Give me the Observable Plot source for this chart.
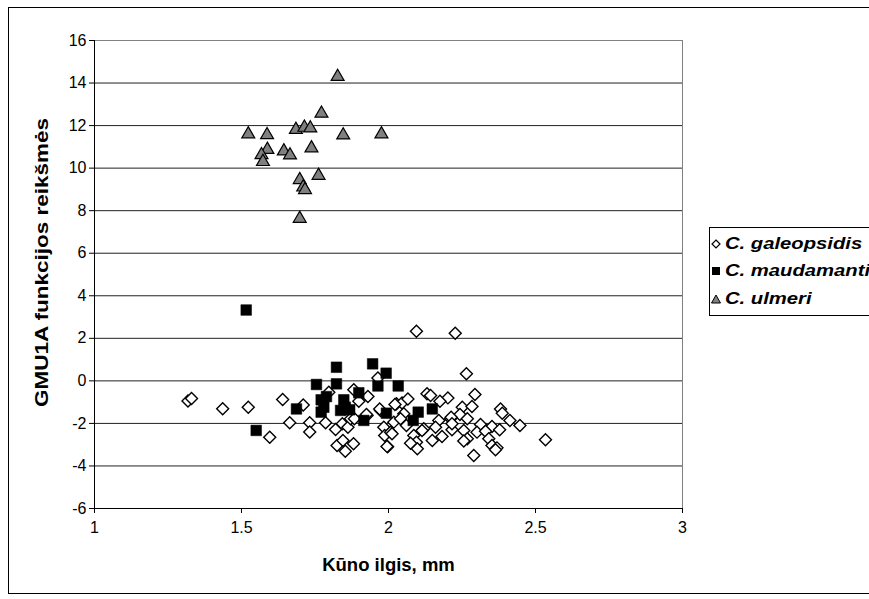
<!DOCTYPE html>
<html>
<head>
<meta charset="utf-8">
<script src="https://cdn.jsdelivr.net/npm/d3@7"></script>
<script src="https://cdn.jsdelivr.net/npm/@observablehq/plot@0.6"></script>
<style>
  body { margin: 0; background: #fff; }
  #wrap { position: relative; width: 869px; height: 599px; overflow: hidden; background: #fff; font-family: "Liberation Sans", Arial, sans-serif; }
  #frame { position: absolute; left: 8px; top: 7px; width: 900px; height: 587px; border: 1px solid #000; box-sizing: border-box; }
  #chart { position: absolute; left: 0; top: 0; }
  #legend { position: absolute; left: 709px; top: 227px; width: 200px; height: 89px; border: 1px solid #000; box-sizing: border-box; background: #fff; }
  .row { position: absolute; left: 0; height: 20px; display: flex; align-items: center; white-space: nowrap; font-weight: bold; font-style: italic; font-size: 17px; color: #000; }
  .row svg { margin-left: 1px; margin-right: 4px; flex: none; }
  .row span { display: inline-block; transform: scaleX(1.19); transform-origin: left center; }
</style>
</head>
<body>
<div id="wrap">
  <div id="frame"></div>
  <div id="chart"></div>
  <div id="legend"></div>
</div>
<script>
const xTicks = [1, 1.5, 2, 2.5, 3];
const yTicks = [-6, -4, -2, 0, 2, 4, 6, 8, 10, 12, 14, 16];
const xTitle = "Kūno ilgis, mm";
const yTitle = "GMU1A funkcijos reikšmės";
const seriesNames = ["C. galeopsidis", "C. maudamanti", "C. ulmeri"];

const galeopsidis = [
  [1.318,-0.95],[1.330,-0.83],[1.436,-1.31],[1.523,-1.24],[1.596,-2.65],[1.640,-0.88],[1.664,-1.97],
  [1.710,-1.13],[1.732,-1.97],[1.732,-2.40],[1.786,-1.97],[1.797,-0.54],[1.820,-2.29],[1.843,-2.02],
  [1.862,-2.18],[1.825,-3.04],[1.845,-2.80],[1.881,-2.96],[1.853,-3.31],[1.882,-0.42],[1.930,-0.74],
  [1.899,-0.96],[1.871,-1.78],[1.927,-1.63],[1.964,0.13],[1.973,-1.39],[1.984,-2.18],[1.987,-2.57],
  [1.997,-3.10],[2.007,-2.41],[2.018,-1.94],[2.027,-1.08],[2.046,-1.04],[2.066,-0.85],[2.052,-1.55],
  [2.041,-1.78],[2.061,-2.10],[2.012,-2.49],[2.086,-2.57],[2.095,-2.89],[2.098,-3.19],[2.131,-0.61],
  [2.120,-2.25],[2.095,2.33],[2.227,2.24],[2.265,0.33],[2.143,-0.69],[2.202,-0.80],[2.294,-0.64],
  [2.175,-0.96],[2.251,-1.24],[2.284,-1.21],[2.381,-1.32],[2.387,-1.52],[2.243,-1.58],[2.268,-1.78],
  [2.211,-1.78],[2.413,-1.86],[2.447,-2.10],[2.313,-2.05],[2.352,-2.15],[2.378,-2.30],[2.171,-1.86],
  [2.182,-2.62],[2.216,-2.30],[2.256,-2.33],[2.301,-2.41],[2.330,-2.37],[2.268,-2.72],[2.256,-2.83],
  [2.341,-2.72],[2.352,-3.04],[2.369,-3.15],[2.364,-3.24],[2.290,-3.51],[2.534,-2.77],[2.149,-2.80],
  [2.160,-2.18],[2.075,-2.93],[2.114,-2.33],[2.022,-1.11],[1.925,-1.58],[1.884,-1.78],[1.970,-1.32],
  [1.995,-3.08],[2.213,-1.71],[2.216,-2.02]
];
const maudamanti = [
  [1.516,3.33],[1.550,-2.33],[1.687,-1.32],[1.755,-0.17],[1.823,0.64],[1.823,-0.14],[1.946,0.80],
  [1.992,0.36],[1.964,-0.24],[2.033,-0.24],[1.771,-0.89],[1.789,-0.74],[1.771,-1.47],[1.780,-1.24],
  [1.848,-0.89],[1.853,-1.24],[1.837,-1.39],[1.868,-1.36],[1.899,-0.56],[1.916,-1.86],[1.993,-1.52],
  [2.101,-1.47],[2.084,-1.86],[2.149,-1.32]
];
const ulmeri = [
  [1.827,14.30],[1.772,12.57],[1.523,11.60],[1.587,11.56],[1.685,11.81],[1.714,11.91],[1.734,11.88],
  [1.846,11.55],[1.976,11.60],[1.588,10.87],[1.644,10.80],[1.665,10.61],[1.738,10.94],[1.568,10.62],
  [1.573,10.30],[1.762,9.65],[1.698,9.45],[1.710,9.10],[1.716,8.98],[1.698,7.63]
];

const font = "'Liberation Sans', Arial, sans-serif";
const fmt = d => String(d);

const chart = Plot.plot({
  width: 869,
  height: 599,
  marginLeft: 94,
  marginRight: 187,
  marginTop: 40,
  marginBottom: 91,
  style: { fontFamily: font, fontSize: "16px", color: "#000", background: "transparent", overflow: "visible" },
  x: { domain: [1, 3] },
  y: { domain: [-6, 16] },
  marks: [
    Plot.gridY(yTicks, { stroke: "#222", strokeOpacity: 1, strokeWidth: 1 }),
    Plot.ruleY([16], { stroke: "#808080", strokeWidth: 1 }),
    Plot.ruleX([3], { stroke: "#808080", strokeWidth: 1 }),
    Plot.ruleX([1], { stroke: "#000", strokeWidth: 1 }),
    Plot.ruleY([-6], { stroke: "#000", strokeWidth: 1 }),
    Plot.axisY(yTicks, { tickSize: 5, tickPadding: 3, tickFormat: fmt, label: null, fontSize: 16 }),
    Plot.axisX(xTicks, { tickSize: 5, tickPadding: 8, tickFormat: fmt, label: null, fontSize: 16 }),
    Plot.dot(galeopsidis, { x: d => d[0], y: d => d[1], symbol: "diamond2", r: 5.4, fill: "#fff", stroke: "#000", strokeWidth: 1.4 }),
    Plot.dot(maudamanti, { x: d => d[0], y: d => d[1], symbol: "square", r: 6, fill: "#000", stroke: "#000", strokeWidth: 0.5 }),
    Plot.dot(ulmeri, { x: d => d[0], y: d => d[1], symbol: "triangle", r: 4.8, fill: "#808080", stroke: "#000", strokeWidth: 1.2 }),
    Plot.text([yTitle], { frameAnchor: "left", dx: -52, dy: -12, rotate: -90, textAnchor: "middle", fontWeight: "bold", fontSize: 18, fill: "#000" }),
    Plot.text([xTitle], { frameAnchor: "bottom", dy: 62, textAnchor: "middle", fontWeight: "bold", fontSize: 18.5, fill: "#000" })
  ]
});
document.getElementById("chart").appendChild(chart);

// stretch the vertical title along its length to match the reference proportions
d3.select(chart).selectAll("text")
  .filter(function () { return this.textContent === yTitle; })
  .attr("transform", function () { return (this.getAttribute("transform") || "") + " scale(1.25,1)"; });

// Legend
const legend = document.getElementById("legend");
const markerSvgs = [
  '<svg width="10" height="10" viewBox="0 0 10 10"><path d="M5 1 L9 5 L5 9 L1 5 Z" fill="#fff" stroke="#000" stroke-width="1.2"/></svg>',
  '<svg width="10" height="10" viewBox="0 0 10 10"><rect x="1" y="1" width="8" height="8" fill="#000"/></svg>',
  '<svg width="10" height="10" viewBox="0 0 10 10"><path d="M5 1 L9.5 9 L0.5 9 Z" fill="#808080" stroke="#000" stroke-width="1"/></svg>'
];
const rowTops = [6, 33, 61];
seriesNames.forEach((name, i) => {
  const row = document.createElement("div");
  row.className = "row";
  row.style.top = rowTops[i] + "px";
  row.innerHTML = markerSvgs[i] + "<span>" + name + "</span>";
  legend.appendChild(row);
});
</script>
</body>
</html>
